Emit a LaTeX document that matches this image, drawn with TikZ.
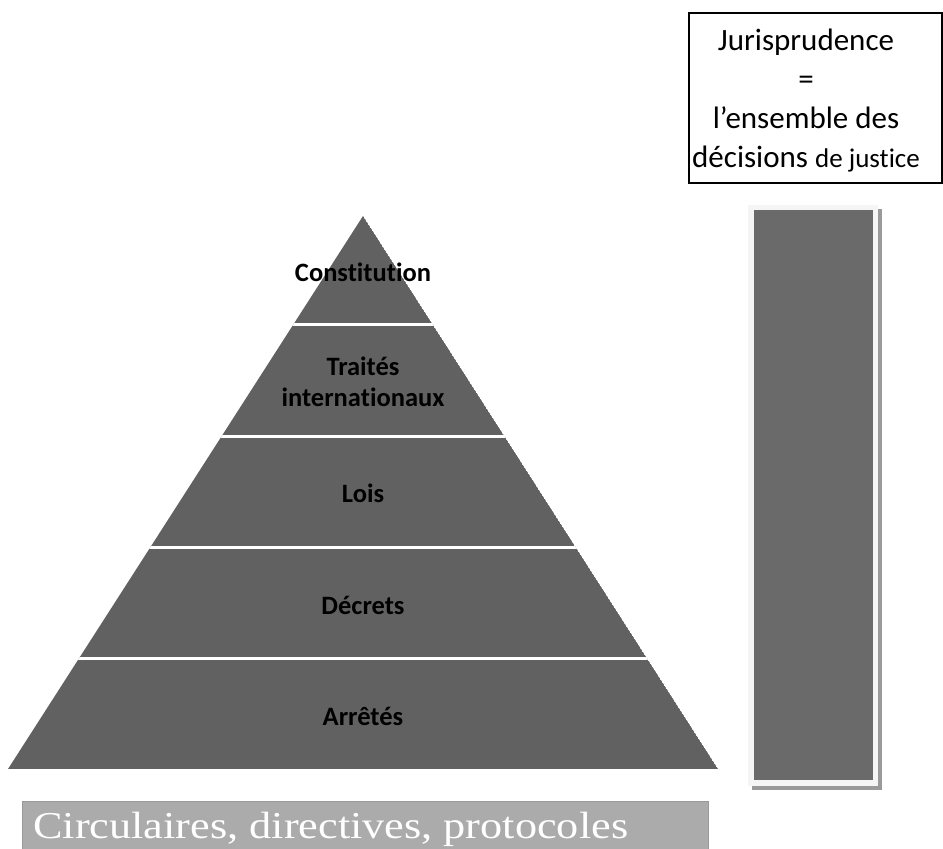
\documentclass[tikz,border=0pt]{standalone}
\usepackage{fontspec}
\setmainfont[Ligatures=CommonOff]{Carlito}
\newfontfamily\serifbox{Liberation Serif}
\definecolor{pyr}{HTML}{616161}
\definecolor{barin}{HTML}{6A6A6A}
\definecolor{barframe}{HTML}{F5F5F5}
\definecolor{barshadow}{HTML}{9A9A9A}
\definecolor{basefill}{HTML}{ABABAB}
\definecolor{baseline}{HTML}{999999}
\begin{document}
\begin{tikzpicture}[x=1pt,y=1pt,
  lvl/.style={font=\fontsize{26.5}{30}\selectfont\bfseries, text=black, align=center, inner sep=0pt},
  sep/.style={draw=white, line width=3pt}]
\useasboundingbox (0,0) rectangle (943,849);
% pyramid
\coordinate (apex) at (363,633);
\coordinate (bl) at (8,80);
\coordinate (br) at (718,80);
\begin{scope}
  \clip (apex) -- (bl) -- (br) -- cycle;
  \fill[pyr] (apex) -- (bl) -- (br) -- cycle;
  \draw[sep] (0,524.5) -- (943,524.5);
  \draw[sep] (0,412.5) -- (943,412.5);
  \draw[sep] (0,301.5) -- (943,301.5);
  \draw[sep] (0,190.5) -- (943,190.5);
\end{scope}
\node[lvl] (constitution) at (363,577) {Constitution};
\node[lvl, font=\fontsize{26.5}{31}\selectfont\bfseries] (traites) at (363,467) {Traités\\internationaux};
\node[lvl] (lois) at (363,356) {Lois};
\node[lvl] (decrets) at (363,244) {Décrets};
\node[lvl] (arretes) at (363,133) {Arrêtés};
% right bar
\fill[barshadow] (752,59) rectangle (882,640);
\fill[barframe] (748,63) rectangle (878,644);
\fill[barin] (754,69) rectangle (873,639);
\node[inner sep=0pt] (bar) at (813.5,354) {};
% jurisprudence box
\draw[line width=1.3pt] (689,666) rectangle (942,836);
\node[align=center, inner sep=0pt, font=\fontsize{31}{39}\selectfont] (juris) at (806,748)
  {Jurisprudence\\=\\l’ensemble des\\décisions {\fontsize{27}{39}\selectfont de justice}};
% bottom box
\filldraw[fill=basefill, draw=baseline, line width=1pt] (22,-5) rectangle (708,47);
\node[anchor=base west, inner sep=0pt, text=white, font=\serifbox\fontsize{38}{40}\selectfont] (circ) at (33,10)
  {\scalebox{1.165}[1]{Circulaires, directives, protocoles}};
\end{tikzpicture}
\end{document}
